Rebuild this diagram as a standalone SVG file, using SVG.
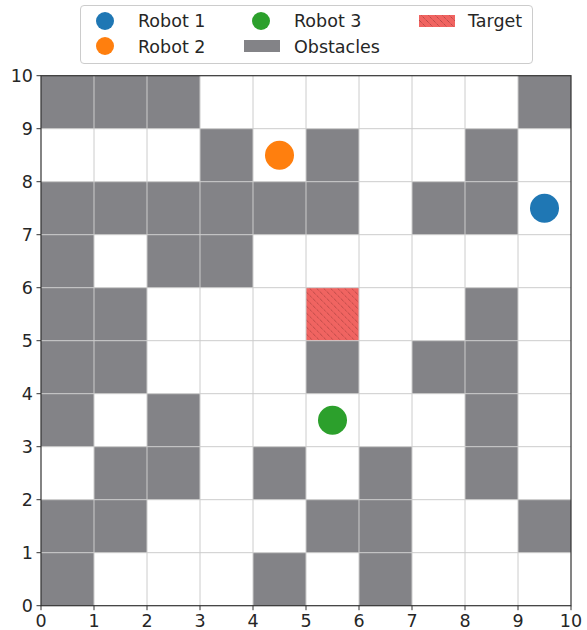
<svg xmlns="http://www.w3.org/2000/svg" width="587" height="630" viewBox="0 0 587 630">
<defs>
<pattern id="hatch" patternUnits="userSpaceOnUse" width="7" height="7">
<rect width="7" height="7" fill="#f06461"/>
<path d="M0,0 L7,7 M-1,6 L1,8 M6,-1 L8,1" stroke="#b04442" stroke-width="1" stroke-dasharray="1.2,0.9"/>
</pattern>
<style>
.obs{fill:#838387}
.grid{stroke:#cccccc;stroke-width:1}
.tick{stroke:#333333;stroke-width:1}
.lbl{font-family:"DejaVu Sans",sans-serif;font-size:17.5px;fill:#262626}
</style>
</defs>
<rect width="587" height="630" fill="#ffffff"/>
<g id="plot" transform="translate(41,75.7)">
<rect x="0" y="0" width="530" height="530" fill="#ffffff"/>
<g id="obstacles">
<rect class="obs" x="0" y="0" width="53" height="53"/><rect class="obs" x="53" y="0" width="53" height="53"/><rect class="obs" x="106" y="0" width="53" height="53"/><rect class="obs" x="477" y="0" width="53" height="53"/>
<rect class="obs" x="159" y="53" width="53" height="53"/><rect class="obs" x="265" y="53" width="53" height="53"/><rect class="obs" x="424" y="53" width="53" height="53"/>
<rect class="obs" x="0" y="106" width="318" height="53"/><rect class="obs" x="371" y="106" width="106" height="53"/>
<rect class="obs" x="0" y="159" width="53" height="53"/><rect class="obs" x="106" y="159" width="106" height="53"/>
<rect class="obs" x="0" y="212" width="106" height="53"/><rect class="obs" x="424" y="212" width="53" height="53"/>
<rect class="obs" x="0" y="265" width="106" height="53"/><rect class="obs" x="265" y="265" width="53" height="53"/><rect class="obs" x="371" y="265" width="106" height="53"/>
<rect class="obs" x="0" y="318" width="53" height="53"/><rect class="obs" x="106" y="318" width="53" height="53"/><rect class="obs" x="424" y="318" width="53" height="53"/>
<rect class="obs" x="53" y="371" width="106" height="53"/><rect class="obs" x="212" y="371" width="53" height="53"/><rect class="obs" x="318" y="371" width="53" height="53"/><rect class="obs" x="424" y="371" width="53" height="53"/>
<rect class="obs" x="0" y="424" width="106" height="53"/><rect class="obs" x="265" y="424" width="106" height="53"/><rect class="obs" x="477" y="424" width="53" height="53"/>
<rect class="obs" x="0" y="477" width="53" height="53"/><rect class="obs" x="212" y="477" width="53" height="53"/><rect class="obs" x="318" y="477" width="53" height="53"/>
</g>
<g id="target"><rect x="265" y="212" width="53" height="53" fill="url(#hatch)"/></g>
<g id="gridlines">
<path class="grid" d="M53,0V530M106,0V530M159,0V530M212,0V530M265,0V530M318,0V530M371,0V530M424,0V530M477,0V530M0,53H530M0,106H530M0,159H530M0,212H530M0,265H530M0,318H530M0,371H530M0,424H530M0,477H530"/>
</g>
<g id="robot1"><circle cx="503.5" cy="132.5" r="14.5" fill="#1f77b4"/></g>
<g id="robot2"><circle cx="238.5" cy="79.5" r="14.5" fill="#ff7f0e"/></g>
<g id="robot3"><circle cx="291.5" cy="344.5" r="14.5" fill="#2ca02c"/></g>
<rect x="0" y="0" width="530" height="530" fill="none" stroke="#333333" stroke-width="1.2"/>
<path class="tick" d="M0,530v4.5M53,530v4.5M106,530v4.5M159,530v4.5M212,530v4.5M265,530v4.5M318,530v4.5M371,530v4.5M424,530v4.5M477,530v4.5M530,530v4.5M0,0h-4.5M0,53h-4.5M0,106h-4.5M0,159h-4.5M0,212h-4.5M0,265h-4.5M0,318h-4.5M0,371h-4.5M0,424h-4.5M0,477h-4.5M0,530h-4.5"/>
<g class="lbl" text-anchor="middle">
<text x="0" y="551">0</text><text x="53" y="551">1</text><text x="106" y="551">2</text><text x="159" y="551">3</text><text x="212" y="551">4</text><text x="265" y="551">5</text><text x="318" y="551">6</text><text x="371" y="551">7</text><text x="424" y="551">8</text><text x="477" y="551">9</text><text x="530" y="551">10</text>
</g>
<g class="lbl" text-anchor="end">
<text x="-8" y="6.3">10</text><text x="-8" y="59.3">9</text><text x="-8" y="112.3">8</text><text x="-8" y="165.3">7</text><text x="-8" y="218.3">6</text><text x="-8" y="271.3">5</text><text x="-8" y="324.3">4</text><text x="-8" y="377.3">3</text><text x="-8" y="430.3">2</text><text x="-8" y="483.3">1</text><text x="-8" y="536.3">0</text>
</g>
</g>
<g id="legend">
<rect x="80.5" y="5.5" width="452" height="58" rx="3.5" fill="#ffffff" stroke="#cccccc" stroke-width="1"/>
<circle cx="105" cy="21" r="9" fill="#1f77b4"/>
<text class="lbl" x="138" y="27">Robot 1</text>
<circle cx="105" cy="46" r="9" fill="#ff7f0e"/>
<text class="lbl" x="138" y="52.5">Robot 2</text>
<circle cx="261" cy="21" r="9" fill="#2ca02c"/>
<text class="lbl" x="294" y="27">Robot 3</text>
<rect x="244" y="40" width="36" height="12" fill="#838387"/>
<text class="lbl" x="294" y="52.5">Obstacles</text>
<rect x="419" y="15" width="36" height="12" fill="url(#hatch)"/>
<text class="lbl" x="468" y="27">Target</text>
</g>
</svg>
